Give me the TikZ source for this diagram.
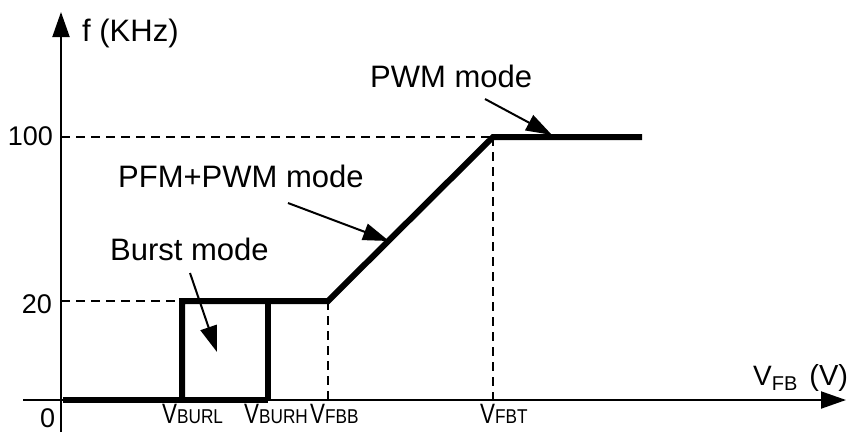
\documentclass[tikz,border=0pt]{standalone}
\usepackage{fontspec}
\setmainfont{Liberation Sans}
\usetikzlibrary{arrows.meta}
\newcommand{\mainsz}{\fontsize{31}{31}\selectfont}
\newcommand{\numsz}{\fontsize{27}{27}\selectfont}
\newcommand{\subsz}{\fontsize{20}{20}\selectfont}
\newcommand{\Vlab}[1]{\scalebox{0.8}[1]{\fontsize{28}{28}\selectfont V}\scalebox{0.86}[1]{\subsz #1}}
\begin{document}
\begin{tikzpicture}[x=1pt,y=-1pt,
  axis/.style={line width=2pt,-{Triangle[length=25pt,width=17pt]}},
  guide/.style={line width=2pt,dash pattern=on 9pt off 6pt},
  curve/.style={line width=6pt,line join=miter,line cap=butt},
  note/.style={line width=2pt,-{Triangle[length=26pt,width=17pt]}},
  txt/.style={inner sep=0pt,font=\mainsz},
  num/.style={inner sep=0pt,font=\numsz},
  vlab/.style={inner sep=0pt,anchor=base west}]
\useasboundingbox (0,0) rectangle (850,432);
% coordinates
\coordinate (ybot) at (61,432);
\coordinate (ytop) at (61,12);
\coordinate (xl) at (23,400);
\coordinate (xr) at (846,400);
\coordinate (y100) at (61,137);
\coordinate (y20) at (61,301);
\coordinate (fbb20) at (328,301);
\coordinate (fbb0) at (328,400);
\coordinate (fbt100) at (493,137);
\coordinate (fbt0) at (493,400);
\coordinate (c0) at (63,400);
\coordinate (bl0) at (182,400);
\coordinate (bl20) at (182,301);
\coordinate (bh0) at (268,400);
\coordinate (bh20) at (268,301);
\coordinate (cend) at (642,137);
% axes
\draw[axis] (ybot) -- (ytop);
\draw[axis] (xl) -- (xr);
% guides
\draw[guide] (y100) -- (fbt100);
\draw[guide] (y20) -- (fbb20);
\draw[guide] (fbb20) -- (fbb0);
\draw[guide] (fbt100) -- (fbt0);
% curve
\draw[curve] (c0) -- (bh0);
\draw[curve] (bl0) -- (bl20) -- (fbb20) -- (fbt100) -- (cend);
\draw[curve] (bh20) -- (bh0);
% labels
\node[txt,anchor=base west] (flab) at (82,41) {f (KHz)};
\node[num,anchor=base east] (l100) at (53,145) {100};
\node[num,anchor=base east] (l20) at (52,313) {20};
\node[num,anchor=base west] (l0) at (40,427) {0};
\node[vlab] (vburl) at (162,423) {\Vlab{BURL}};
\node[vlab] (vburh) at (244,423) {\Vlab{BURH}};
\node[vlab] (vfbb) at (310,423) {\Vlab{FBB}};
\node[vlab] (vfbt) at (480,423) {\Vlab{FBT}};
\node[vlab] (vfb) at (753,385) {{\fontsize{28}{28}\selectfont V}\raisebox{-5pt}{\subsz FB}\hspace{12pt}{\fontsize{29}{29}\selectfont (V)}};
\node[txt,anchor=base west] (pwm) at (370,87) {PWM mode};
\node[txt,anchor=base west] (pfm) at (118,187) {PFM+PWM mode};
\node[txt,anchor=base west] (burst) at (110,260) {Burst mode};
% annotation arrows
\coordinate (pwmS) at (485,99);
\coordinate (pwmE) at (552,135);
\coordinate (pfmS) at (288,203);
\coordinate (pfmE) at (389,241);
\coordinate (burS) at (190,273);
\coordinate (burE) at (217,352);
\draw[note] (pwmS) -- (pwmE);
\draw[note] (pfmS) -- (pfmE);
\draw[note] (burS) -- (burE);
\end{tikzpicture}
\end{document}
